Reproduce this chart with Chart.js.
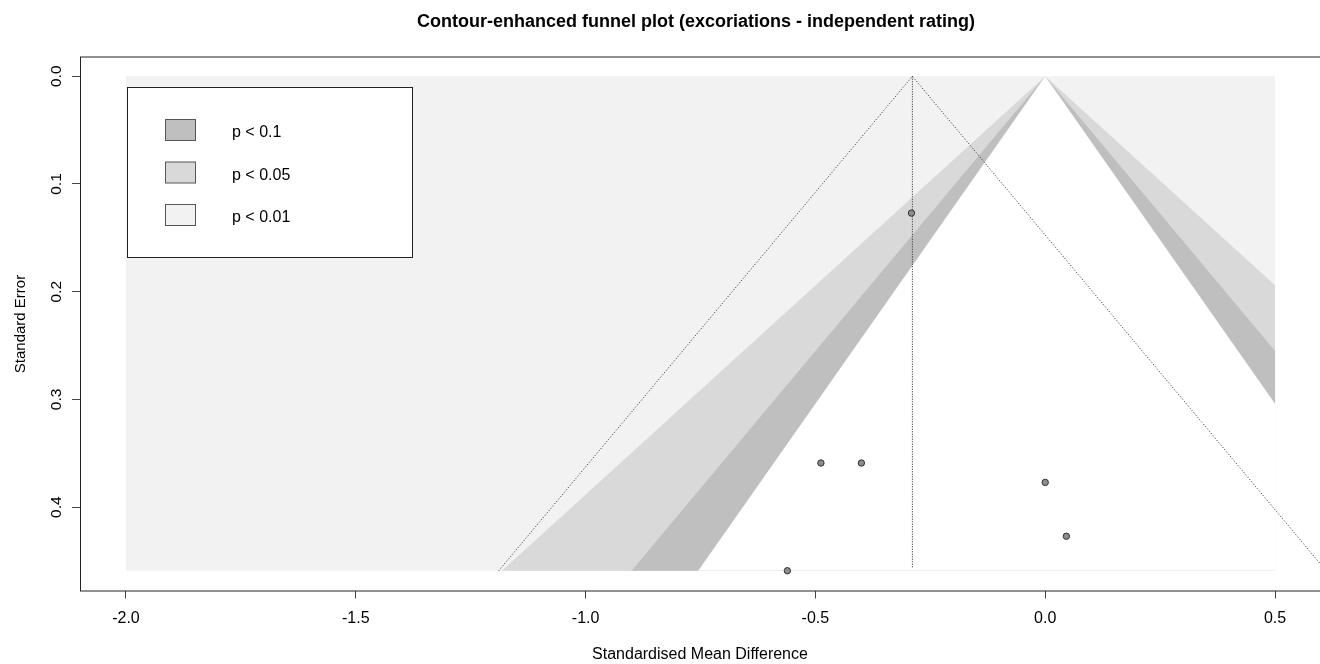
<!DOCTYPE html>
<html>
<head>
<meta charset="utf-8">
<title>Contour-enhanced funnel plot</title>
<script src="https://cdn.jsdelivr.net/npm/chart.js@4/dist/chart.umd.min.js"></script>
<style>
  html, body { margin: 0; padding: 0; overflow: hidden; background: #fff; }
  #wrap { width: 1326px; height: 664px; }
</style>
</head>
<body>
<div id="wrap"><canvas id="grafico" width="1326" height="664"></canvas></div>
<script>
// ticks
const xTicks = [-2.0, -1.5, -1.0, -0.5, 0.0, 0.5];
const yTicks = [0.0, 0.1, 0.2, 0.3, 0.4];

// studies
const studyEffect = [-0.291, -0.488, -0.400, 0.000, 0.046, -0.561];
const studySE = [0.127, 0.359, 0.359, 0.377, 0.427, 0.459];

// pooled estimate and funnel
const pooledEffect = -0.289;
const seMax = 0.459;

// contour legend
const contourLabels = ["p < 0.1", "p < 0.05", "p < 0.01"];
const contourColors = ["#BFBFBF", "#D9D9D9", "#F2F2F2"];

// shaded regions (x, se) vertices
const regionOuter = [[-2.0, 0], [0.5, 0], [0.5, 0.459], [-2.0, 0.459]];
const region05 = [[0, 0], [0.5, 0.194], [0.5, 0.459], [-1.182, 0.459]];
const region10 = [[0, 0], [0.5, 0.255], [0.5, 0.459], [-0.900, 0.459]];
const regionCenter = [[0, 0], [0.5, 0.304], [0.5, 0.459], [-0.755, 0.459]];
const funnelLine = [[-1.189, 0.459], [-0.289, 0], [0.611, 0.459]];
const pooledLine = [[-0.289, 0], [-0.289, 0.457]];

const FONT = "'Liberation Sans', Arial, sans-serif";

function pts(arr) {
  return arr.map(p => ({ x: p[0], y: p[1] }));
}

function poligono(data, cor, ordem) {
  return {
    data: pts(data),
    showLine: true,
    fill: "shape",
    backgroundColor: cor,
    borderWidth: 0,
    borderColor: cor,
    pointRadius: 0,
    order: ordem
  };
}

const extrasPlugin = {
  id: "extras",
  afterDatasetsDraw(chart) {
    const ctx = chart.ctx;
    const a = chart.chartArea;
    const ys = chart.scales.y;
    ctx.save();

    // box around plot
    ctx.strokeStyle = "#222";
    ctx.lineWidth = 1;
    ctx.strokeRect(a.left + 0.5, a.top + 0.5, a.right - a.left, a.bottom - a.top);

    // legend
    ctx.fillStyle = "#fff";
    ctx.fillRect(127.5, 87.5, 285, 170);
    ctx.strokeRect(127.5, 87.5, 285, 170);
    const rowsY = [119, 161.5, 204];
    const baseY = [137, 179.5, 222];
    ctx.font = "16px " + FONT;
    ctx.textAlign = "left";
    ctx.textBaseline = "alphabetic";
    contourLabels.forEach((lab, i) => {
      ctx.fillStyle = contourColors[i];
      ctx.fillRect(165.5, rowsY[i] + 0.5, 30, 21);
      ctx.strokeStyle = "#555";
      ctx.strokeRect(165.5, rowsY[i] + 0.5, 30, 21);
      ctx.fillStyle = "#000";
      ctx.fillText(lab, 232, baseY[i]);
    });

    // y tick labels (rotated)
    ctx.fillStyle = "#000";
    ctx.textAlign = "center";
    ctx.font = "15.5px " + FONT;
    yTicks.forEach(v => {
      const py = ys.getPixelForValue(v);
      ctx.save();
      ctx.translate(61, py);
      ctx.rotate(-Math.PI / 2);
      ctx.fillText(v.toFixed(1), 0, 0);
      ctx.restore();
    });

    // axis titles
    ctx.save();
    ctx.font = "15px " + FONT;
    ctx.translate(24.5, 324);
    ctx.rotate(-Math.PI / 2);
    ctx.fillText("Standard Error", 0, 0);
    ctx.restore();
    ctx.font = "16px " + FONT;
    ctx.fillText("Standardised Mean Difference", 700, 659);

    // main title
    ctx.font = "bold 18px " + FONT;
    ctx.fillText("Contour-enhanced funnel plot (excoriations - independent rating)", 696, 27);
    ctx.restore();
  }
};

const ctx = document.getElementById("grafico").getContext("2d");
window.myChart = new Chart(ctx, {
  type: "scatter",
  data: {
    datasets: [
      {
        data: studyEffect.map((x, i) => ({ x: x, y: studySE[i] })),
        pointRadius: 3.2,
        pointBackgroundColor: "#8C8C8C",
        pointBorderColor: "#333",
        pointBorderWidth: 1,
        order: 1
      },
      {
        data: pts(funnelLine),
        showLine: true,
        borderColor: "#222",
        borderWidth: 1,
        borderDash: [1, 2],
        pointRadius: 0,
        order: 2
      },
      {
        data: pts(pooledLine),
        showLine: true,
        borderColor: "#222",
        borderWidth: 1,
        borderDash: [1, 1.5],
        pointRadius: 0,
        order: 3
      },
      poligono(regionCenter, "#FFFFFF", 7),
      poligono(region10, contourColors[0], 8),
      poligono(region05, contourColors[1], 9),
      poligono(regionOuter, contourColors[2], 10)
    ]
  },
  options: {
    responsive: false,
    animation: false,
    events: [],
    layout: { padding: { top: 56.5, right: 1, left: 0, bottom: 0 } },
    plugins: {
      legend: { display: false },
      title: { display: false },
      tooltip: { enabled: false }
    },
    scales: {
      x: {
        type: "linear",
        min: -2.1,
        max: 0.6,
        afterBuildTicks: s => { s.ticks = xTicks.map(v => ({ value: v })); },
        afterFit: s => { s.height = 73.5; s.paddingLeft = 0; s.paddingRight = 0; },
        border: { display: false },
        grid: { drawOnChartArea: false, drawTicks: true, tickLength: 8, color: "#444" },
        ticks: {
          color: "#000",
          padding: 10,
          font: { family: FONT, size: 16 },
          maxRotation: 0,
          callback: v => Number(v).toFixed(1)
        }
      },
      y: {
        type: "linear",
        reverse: true,
        min: -0.01836,
        max: 0.47736,
        afterBuildTicks: s => { s.ticks = yTicks.map(v => ({ value: v })); },
        afterFit: s => { s.width = 80; s.paddingTop = 0; s.paddingBottom = 0; },
        border: { display: false },
        grid: { drawOnChartArea: false, drawTicks: true, tickLength: 8, color: "#444" },
        ticks: { color: "rgba(0,0,0,0)", padding: 2, font: { family: FONT, size: 16 } }
      }
    }
  },
  plugins: [extrasPlugin]
});
</script>
</body>
</html>
